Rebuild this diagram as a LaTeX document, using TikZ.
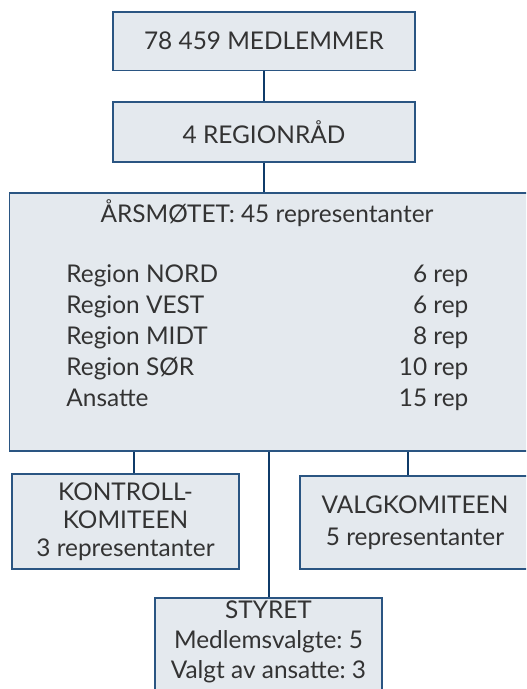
\documentclass[tikz,border=0pt]{standalone}
\usepackage{fontspec}
\setmainfont{Lato}
\usetikzlibrary{positioning}
\definecolor{boxfill}{HTML}{E4E9EE}
\definecolor{boxline}{HTML}{2A5582}
\definecolor{linkblue}{HTML}{0F3B69}
\definecolor{txtgray}{HTML}{333333}
\frenchspacing

\begin{document}
\begin{tikzpicture}[
    x=0.5pt, y=-0.5pt,
    every node/.style={font=\fontsize{12.2}{14.5}\selectfont, text=txtgray},
    box/.style={rectangle, draw=boxline, line width=0.75pt, fill=boxfill, align=center, inner sep=0pt},
    link/.style={linkblue, line width=1pt}
  ]
    \clip (0,0) rectangle (526,689);
    % Nodes
    \node[box, minimum width=151pt, minimum height=29.25pt] (medlemmer) at (264,41.25) {78 459 MEDLEMMER};
    \node[box, minimum width=151pt, minimum height=30pt] (region) at (264,132) {4 REGIONRÅD};
    \node[box, minimum width=262.75pt, minimum height=129pt] (aarsmote) at (272.25,322) {};
    \node (aarstitle) at (267,213) {ÅRSMØTET: 45 representanter};
    \node[anchor=west, inner sep=0pt, font=\fontsize{12.2}{15.5}\selectfont] (fordeling) at (66,338.5) {%
      \begin{tabular*}{201pt}{@{}l@{\extracolsep{\fill}}r@{}}
        Region NORD & 6 rep\\
        Region VEST & 6 rep\\
        Region MIDT & 8 rep\\
        Region SØR & 10 rep\\
        Ansatte & 15 rep
      \end{tabular*}};
    \node[box, minimum width=113.5pt, minimum height=47.5pt, font=\fontsize{12.2}{14}\selectfont] (kontroll) at (125.5,521.5) {KONTROLL-\\KOMITEEN\\3 representanter};
    \node[box, minimum width=115pt, minimum height=46.5pt, font=\fontsize{12.2}{16}\selectfont] (valg) at (415,522.5) {VALGKOMITEEN\\5 representanter};
    \node[box, minimum width=113.5pt, minimum height=51pt, text depth=9pt, font=\fontsize{12.2}{15}\selectfont] (styret) at (268.5,649) {STYRET\\Medlemsvalgte: 5\\Valgt av ansatte: 3};
    % Connectors
    \draw[link] (medlemmer.south) -- (region.north);
    \draw[link] (region.south) -- (region.south |- aarsmote.north);
    \draw[link] (aarsmote.south -| styret.north) -- (styret.north);
    \draw[link] ([xshift=4.25pt]kontroll.north) -- ([xshift=4.25pt]kontroll.north |- aarsmote.south);
    \draw[link] ([xshift=-3.5pt]valg.north) -- ([xshift=-3.5pt]valg.north |- aarsmote.south);
  \end{tikzpicture}
\end{document}
